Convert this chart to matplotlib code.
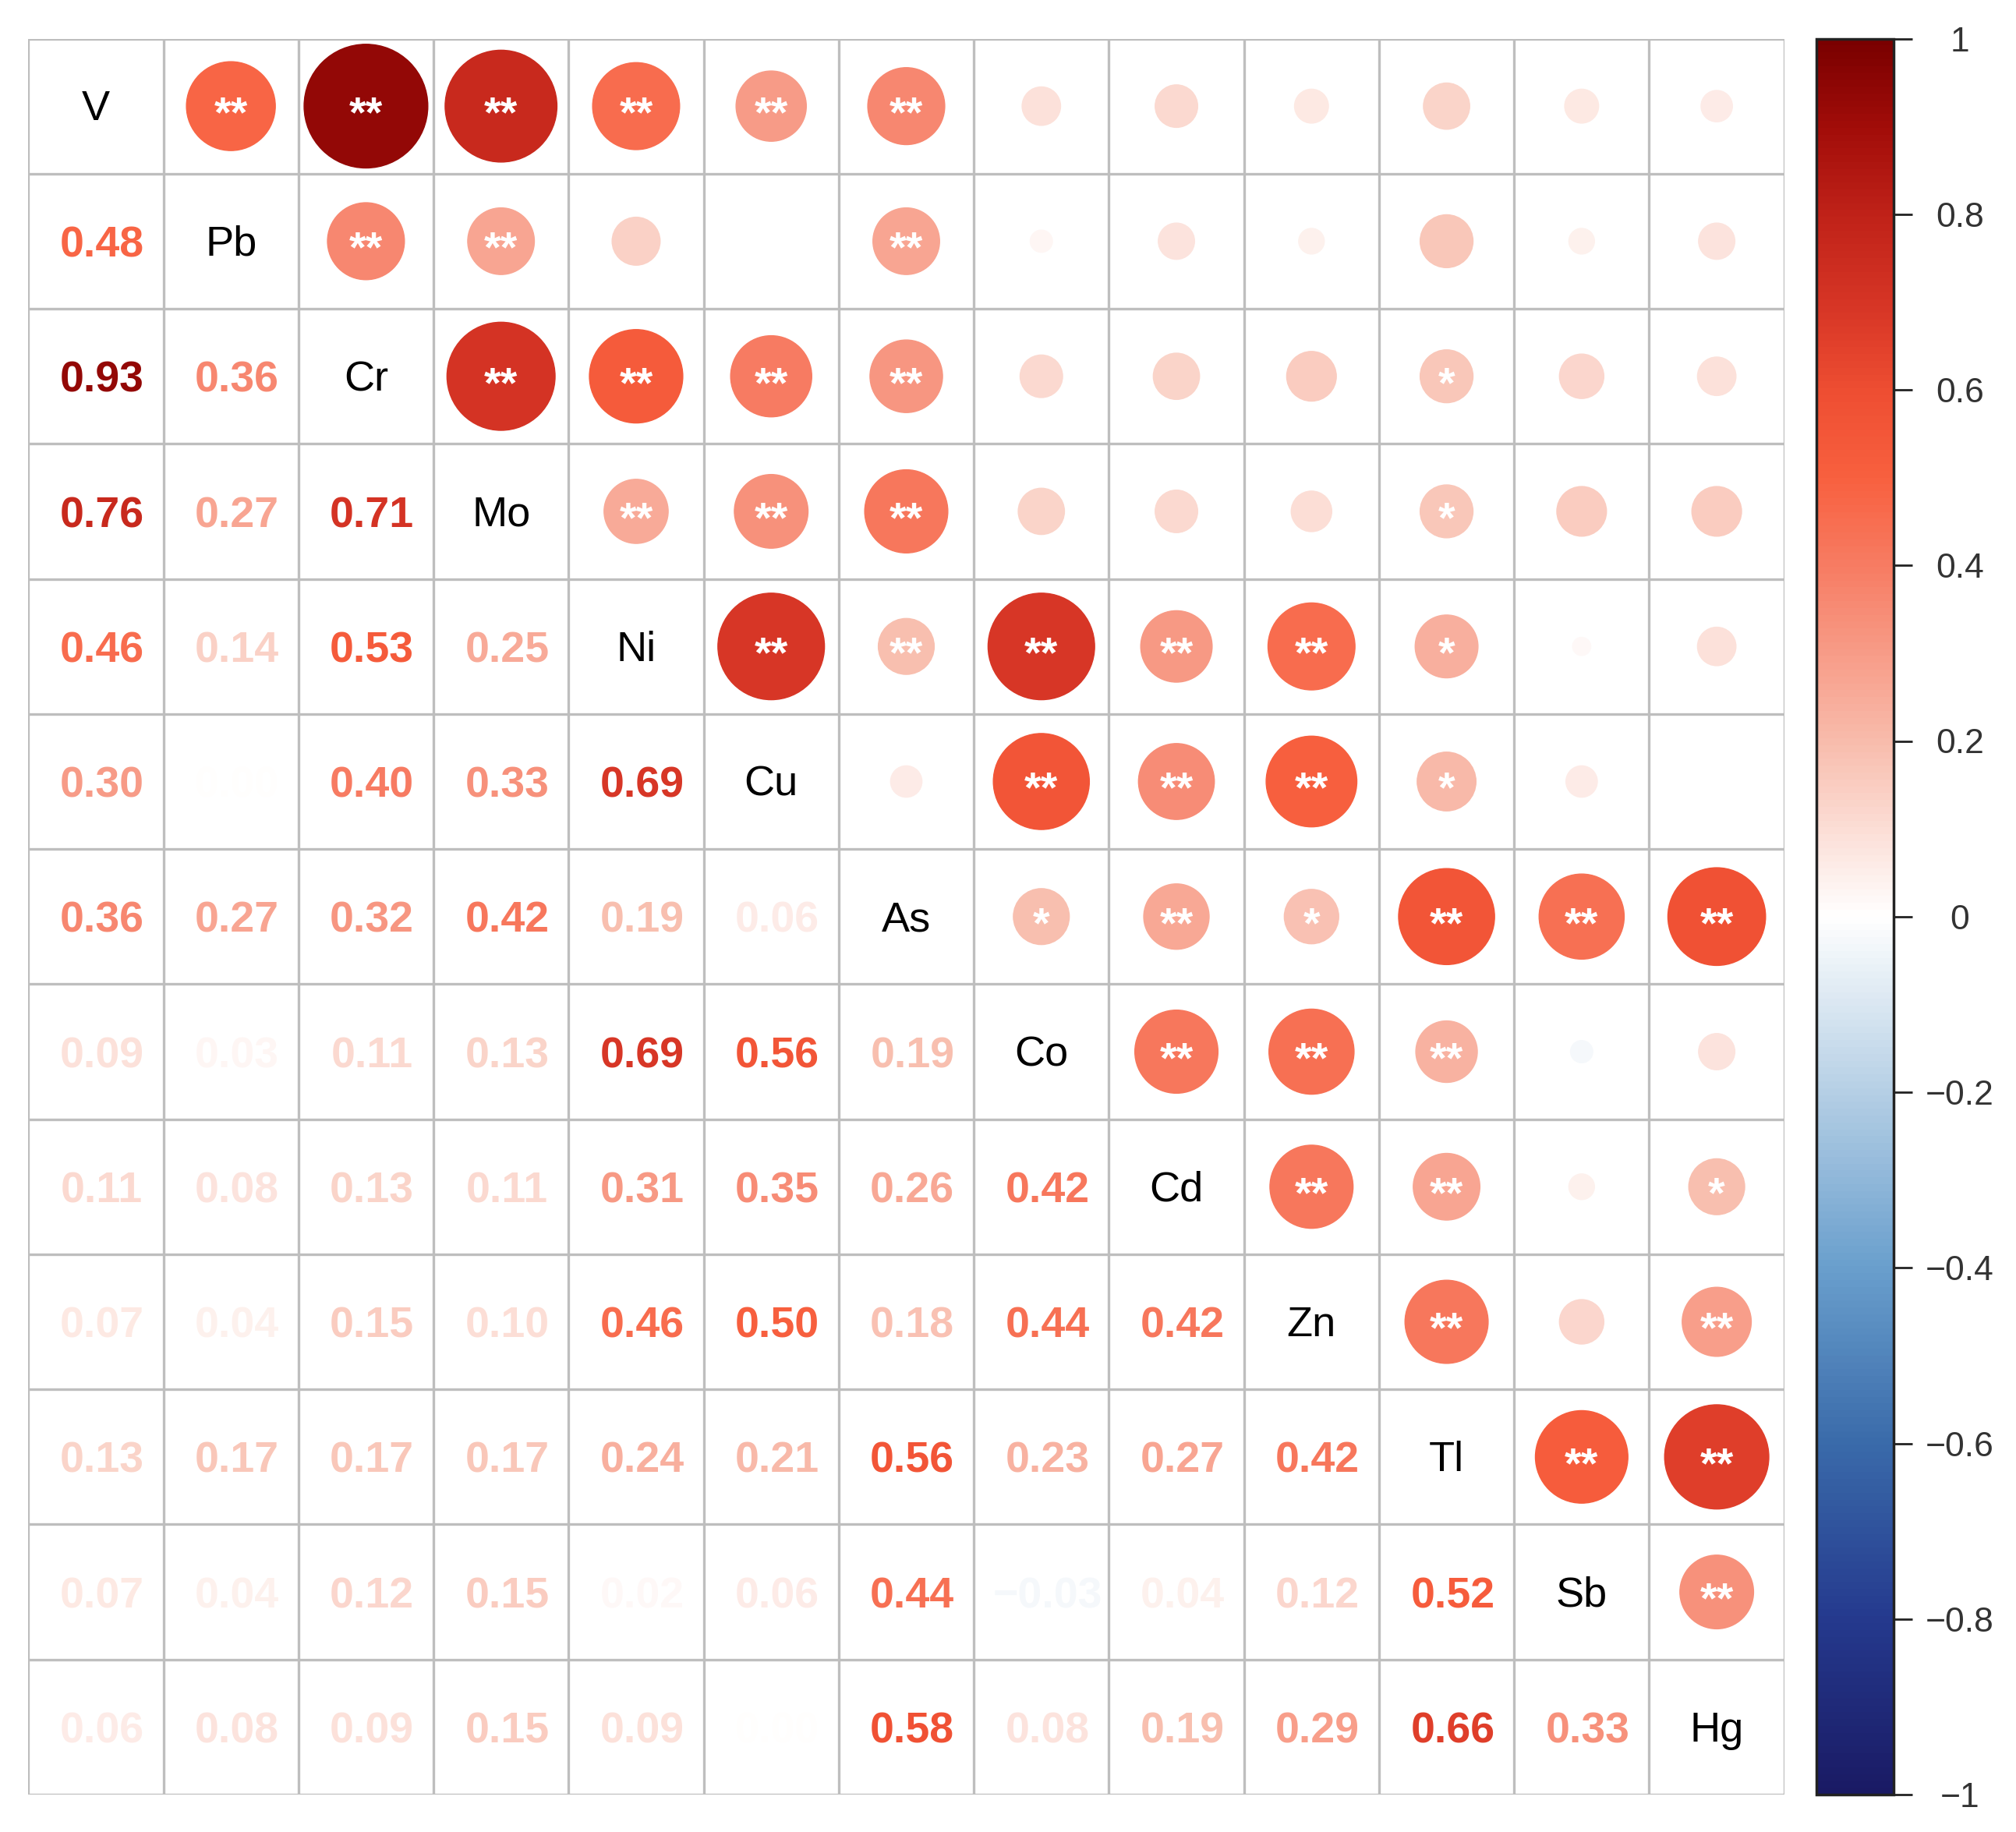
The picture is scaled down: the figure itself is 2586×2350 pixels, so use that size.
import numpy as np
import matplotlib
matplotlib.use("Agg")
import matplotlib.pyplot as plt
from matplotlib.colors import LinearSegmentedColormap, Normalize
from matplotlib.patches import Circle
import matplotlib.cm as cm

plt.rcParams['font.family'] = ['Liberation Sans', 'DejaVu Sans']

variables = ["V", "Pb", "Cr", "Mo", "Ni", "Cu", "As", "Co", "Cd", "Zn", "Tl", "Sb", "Hg"]

# lower-triangle correlation values, row by row (row i has i values)
r_Pb = [0.48]
r_Cr = [0.93, 0.36]
r_Mo = [0.76, 0.27, 0.71]
r_Ni = [0.46, 0.14, 0.53, 0.25]
r_Cu = [0.30, 0.00, 0.40, 0.33, 0.69]
r_As = [0.36, 0.27, 0.32, 0.42, 0.19, 0.06]
r_Co = [0.09, 0.03, 0.11, 0.13, 0.69, 0.56, 0.19]
r_Cd = [0.11, 0.08, 0.13, 0.11, 0.31, 0.35, 0.26, 0.42]
r_Zn = [0.07, 0.04, 0.15, 0.10, 0.46, 0.50, 0.18, 0.44, 0.42]
r_Tl = [0.13, 0.17, 0.17, 0.17, 0.24, 0.21, 0.56, 0.23, 0.27, 0.42]
r_Sb = [0.07, 0.04, 0.12, 0.15, 0.02, 0.06, 0.44, -0.03, 0.04, 0.12, 0.52]
r_Hg = [0.06, 0.08, 0.09, 0.15, 0.09, 0.00, 0.58, 0.08, 0.19, 0.29, 0.66, 0.33]

# significance marks for the upper triangle, row by row (row i -> columns i+1..)
s_V  = ["**", "**", "**", "**", "**", "**", "", "", "", "", "", ""]
s_Pb = ["**", "**", "", "", "**", "", "", "", "", "", ""]
s_Cr = ["**", "**", "**", "**", "", "", "", "*", "", ""]
s_Mo = ["**", "**", "**", "", "", "", "*", "", ""]
s_Ni = ["**", "**", "**", "**", "**", "*", "", ""]
s_Cu = ["", "**", "**", "**", "*", "", ""]
s_As = ["*", "**", "*", "**", "**", "**"]
s_Co = ["**", "**", "**", "", ""]
s_Cd = ["**", "**", "", "*"]
s_Zn = ["**", "", "**"]
s_Tl = ["**", "**"]
s_Sb = ["**"]

cbar_ticks = [1, 0.8, 0.6, 0.4, 0.2, 0, -0.2, -0.4, -0.6, -0.8, -1]
cbar_labels = ["1", "0.8", "0.6", "0.4", "0.2", "0", "\u22120.2", "\u22120.4", "\u22120.6", "\u22120.8", "\u22121"]

lower_rows = [r_Pb, r_Cr, r_Mo, r_Ni, r_Cu, r_As, r_Co, r_Cd, r_Zn, r_Tl, r_Sb, r_Hg]
sig_rows = [s_V, s_Pb, s_Cr, s_Mo, s_Ni, s_Cu, s_As, s_Co, s_Cd, s_Zn, s_Tl, s_Sb]

n = len(variables)
R = np.eye(n)
for i, row in enumerate(lower_rows, start=1):
    for j, v in enumerate(row):
        R[i, j] = v
        R[j, i] = v
S = [["" for _ in range(n)] for _ in range(n)]
for i, row in enumerate(sig_rows):
    for k, s in enumerate(row):
        S[i][i + 1 + k] = s

nodes = [(-1.0, "#1A1A64"), (-0.8, "#253A8E"), (-0.6, "#3A6BAA"), (-0.4, "#6A9FCD"),
         (-0.2, "#B5CFE5"), (0.0, "#FFFFFF"), (0.2, "#F8BCAC"), (0.4, "#F77C63"),
         (0.5, "#F8603F"), (0.6, "#EE4E32"), (0.7, "#D63525"), (0.8, "#C02219"),
         (0.9, "#A20D09"), (1.0, "#7A0000")]
cmap = LinearSegmentedColormap.from_list("corr", [((v + 1) / 2, c) for v, c in nodes])
norm = Normalize(-1, 1)

W, H = 2586, 2350
fig = plt.figure(figsize=(W / 100, H / 100), dpi=100)
fig.patch.set_facecolor("white")

x0, x1, y0, y1 = 36, 2289, 49.5, 2302
ax = fig.add_axes([x0 / W, 1 - y1 / H, (x1 - x0) / W, (y1 - y0) / H])
ax.set_xlim(0, n)
ax.set_ylim(n, 0)
ax.set_aspect("equal")
ax.axis("off")

grid_color = "#BEBEBE"
for k in range(n + 1):
    ax.plot([k, k], [0, n], color=grid_color, lw=2.4, zorder=1, solid_capstyle="projecting")
    ax.plot([0, n], [k, k], color=grid_color, lw=2.4, zorder=1, solid_capstyle="projecting")

for i in range(n):
    for j in range(n):
        v = R[i, j]
        col = cmap(norm(v))
        cx, cy = j + 0.5, i + 0.5
        if i == j:
            ax.text(cx, cy + 0.025, variables[i], ha="center", va="center", fontsize=39,
                    color="black", zorder=3)
        elif i > j:
            ax.text(cx + 0.045, cy + 0.035, f"{v:.2f}".replace("-", "\u2212"), ha="center",
                    va="center", fontsize=40, fontweight="bold", color=col, zorder=3)
        else:
            rad = 0.475 * np.sqrt(abs(v))
            ax.add_patch(Circle((cx, cy), rad, facecolor=col, edgecolor=col, lw=1, zorder=2))
            if S[i][j]:
                ax.text(cx, cy + 0.07, S[i][j], ha="center", va="center", fontsize=40,
                        fontweight="bold", color="white", zorder=3)

cax = fig.add_axes([2330 / W, 1 - y1 / H, (2429 - 2330) / W, (y1 - y0) / H])
cb = fig.colorbar(cm.ScalarMappable(norm=norm, cmap=cmap), cax=cax)
cb.outline.set_edgecolor("#222222")
cb.outline.set_linewidth(2.5)
cb.set_ticks(cbar_ticks)
cb.set_ticklabels(cbar_labels)
cax.tick_params(axis="y", length=17, width=2, color="#222222", pad=44,
                labelsize=32, labelcolor="#333333")
for lab in cax.get_yticklabels():
    lab.set_horizontalalignment("center")

fig.savefig("out.png", dpi=100, facecolor="white")
